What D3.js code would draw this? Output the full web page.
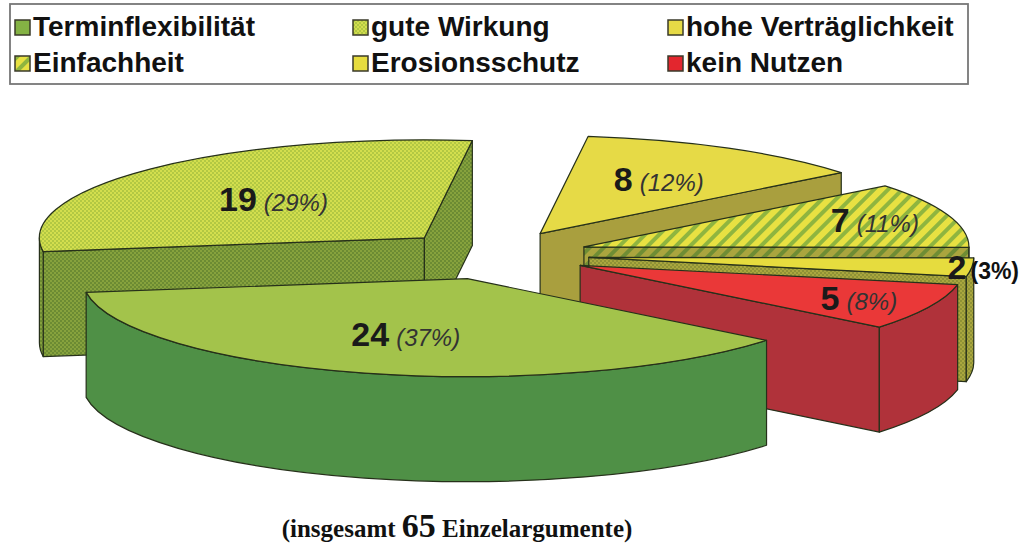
<!DOCTYPE html>
<html>
<head>
<meta charset="utf-8">
<script src="https://cdn.jsdelivr.net/npm/d3@7"></script>
<style>
  body { margin: 0; background: #fff; }
  text { font-family: "Liberation Sans", Arial, sans-serif; }
</style>
</head>
<body>
<div id="chart"></div>
<script>
// data
const categories = ["Terminflexibilität", "gute Wirkung", "hohe Verträglichkeit", "Einfachheit", "Erosionsschutz", "kein Nutzen"];
const counts = [24, 19, 8, 7, 2, 5];
const percents = [37, 29, 12, 11, 3, 8];
const total = 65;

// styles (kept apart from the data)
const topFill  = ["#a3c34b", "url(#chkTop)", "#e6da46", "url(#strTop)", "#e6dc3e", "#ea3838"];
const sideFill = ["#4f9046", "url(#chkSide)", "#a99f3e", "url(#strSide)", "url(#chkOlive)", "#b0323a"];
const legendFill = ["#84b244", "url(#chkTop)", "#e6da46", "url(#strTop)", "#e6dc3e", "#e3262e"];
const labelR = [0.6, 0.55, 0.63, 0.8, 1.03, 0.8];

const width = 1025, height = 550;
const svg = d3.select("#chart").append("svg")
    .attr("width", width)
    .attr("height", height);

const defs = svg.append("defs");

function checker(id, a, b) {
    const p = defs.append("pattern").attr("id", id)
        .attr("width", 4).attr("height", 4)
        .attr("patternUnits", "userSpaceOnUse");
    p.append("rect").attr("width", 4).attr("height", 4).attr("fill", a);
    p.append("rect").attr("width", 2).attr("height", 2).attr("fill", b);
    p.append("rect").attr("x", 2).attr("y", 2).attr("width", 2).attr("height", 2).attr("fill", b);
}
function stripes(id, a, b) {
    const p = defs.append("pattern").attr("id", id)
        .attr("width", 10).attr("height", 10)
        .attr("patternUnits", "userSpaceOnUse")
        .attr("patternTransform", "rotate(45)");
    p.append("rect").attr("width", 10).attr("height", 10).attr("fill", a);
    p.append("rect").attr("width", 4).attr("height", 10).attr("fill", b);
}
checker("chkTop", "#d3de4e", "#b2c843");
checker("chkSide", "#87a23d", "#6c8b33");
checker("chkOlive", "#aaa73e", "#8f9236");
stripes("strTop", "#e8e142", "#8fb53f");
stripes("strSide", "#aaa53e", "#6f8d34");

// ---- legend ----
const legendX = [15, 353, 668];
const legendY = [20, 56];

svg.append("rect")
    .attr("x", 10).attr("y", 4)
    .attr("width", 958).attr("height", 80)
    .attr("fill", "#fff")
    .attr("stroke", "#777")
    .attr("stroke-width", 1.8);

const legend = svg.append("g").selectAll("g")
    .data(categories)
    .join("g")
    .attr("transform", (d, i) => `translate(${legendX[i % 3]},${legendY[Math.floor(i / 3)]})`);

legend.append("rect")
    .attr("width", 15).attr("height", 15)
    .attr("fill", (d, i) => legendFill[i])
    .attr("stroke", "#3a3a2a")
    .attr("stroke-width", 1.5);

legend.append("text")
    .attr("x", 18).attr("y", 16)
    .style("font-size", "28px")
    .style("font-weight", "bold")
    .attr("fill", "#111")
    .text(d => d);

// ---- 3d exploded pie ----
const cx = 493, cy = 255, rx = 385, ry = 98, depth = 105, explode = 0.25;
const deg = Math.PI / 180;

const pie = d3.pie().sort(null)
    .startAngle(129 * deg)
    .endAngle(489 * deg);

// d3.pie angles run from 12 o'clock; shift to screen angles (0 = 3 o'clock)
const slices = pie(counts).map((a, i) => {
    const t0 = a.startAngle - Math.PI / 2,
          t1 = a.endAngle - Math.PI / 2,
          m = (t0 + t1) / 2;
    const c = [cx + explode * rx * Math.cos(m), cy + explode * ry * Math.sin(m)];
    return {i, t0, t1, m, c};
});

const pt = (c, t, r = 1, dy = 0) => [c[0] + rx * r * Math.cos(t), c[1] + ry * r * Math.sin(t) + dy];

function topPath(s) {
    const a = pt(s.c, s.t0), b = pt(s.c, s.t1);
    const large = (s.t1 - s.t0) > Math.PI ? 1 : 0;
    return `M${s.c[0]},${s.c[1]}L${a[0]},${a[1]}A${rx},${ry} 0 ${large} 1 ${b[0]},${b[1]}Z`;
}

function radialWall(s, t) {
    const p = pt(s.c, t);
    return `M${s.c[0]},${s.c[1]}L${p[0]},${p[1]}L${p[0]},${p[1] + depth}L${s.c[0]},${s.c[1] + depth}Z`;
}

function outerWalls(s) {
    const out = [];
    for (let k = -1; k <= 2; k++) {
        const lo = Math.max(s.t0, 2 * Math.PI * k), hi = Math.min(s.t1, 2 * Math.PI * k + Math.PI);
        if (hi - lo > 0.001) {
            const a = pt(s.c, lo), b = pt(s.c, hi);
            out.push(`M${a[0]},${a[1]}A${rx},${ry} 0 0 1 ${b[0]},${b[1]}` +
                `L${b[0]},${b[1] + depth}A${rx},${ry} 0 0 0 ${a[0]},${a[1] + depth}Z`);
        }
    }
    return out;
}

const pieG = svg.append("g");
const order = slices.slice().sort((a, b) => a.c[1] - b.c[1]);

order.forEach(s => {
    const g = pieG.append("g")
        .attr("stroke", "#26301a")
        .attr("stroke-width", 1.2)
        .attr("stroke-linejoin", "round");
    if (Math.cos(s.t0) < 0) g.append("path").attr("d", radialWall(s, s.t0)).attr("fill", sideFill[s.i]);
    if (Math.cos(s.t1) > 0) g.append("path").attr("d", radialWall(s, s.t1)).attr("fill", sideFill[s.i]);
    outerWalls(s).forEach(d => g.append("path").attr("d", d).attr("fill", sideFill[s.i]));
    g.append("path").attr("d", topPath(s)).attr("fill", topFill[s.i]);
});

// labels
const labels = svg.append("g").selectAll("text")
    .data(slices)
    .join("text")
    .attr("x", s => pt(s.c, s.m, labelR[s.i])[0])
    .attr("y", s => pt(s.c, s.m, labelR[s.i], 11)[1])
    .attr("text-anchor", "middle")
    .attr("fill", "#1a1a1a");

labels.append("tspan")
    .style("font-size", "34px")
    .style("font-weight", "bold")
    .text(s => counts[s.i]);

labels.append("tspan")
    .attr("dx", s => percents[s.i] < 5 ? 4 : 7)
    .style("font-size", s => percents[s.i] < 5 ? "23px" : "24px")
    .style("font-style", s => percents[s.i] < 5 ? "normal" : "italic")
    .style("font-weight", s => percents[s.i] < 5 ? "bold" : "normal")
    .attr("fill", s => percents[s.i] < 5 ? "#111" : "#333")
    .text(s => `(${percents[s.i]}%)`);

// caption
const cap = svg.append("text")
    .attr("x", 457).attr("y", 537)
    .attr("text-anchor", "middle")
    .style("font-family", "'Liberation Serif', 'Times New Roman', serif")
    .style("font-weight", "bold")
    .style("font-size", "25px")
    .attr("fill", "#111");
cap.append("tspan").text("(insgesamt ");
cap.append("tspan").style("font-size", "34px").text(total);
cap.append("tspan").text(" Einzelargumente)");
</script>
</body>
</html>
